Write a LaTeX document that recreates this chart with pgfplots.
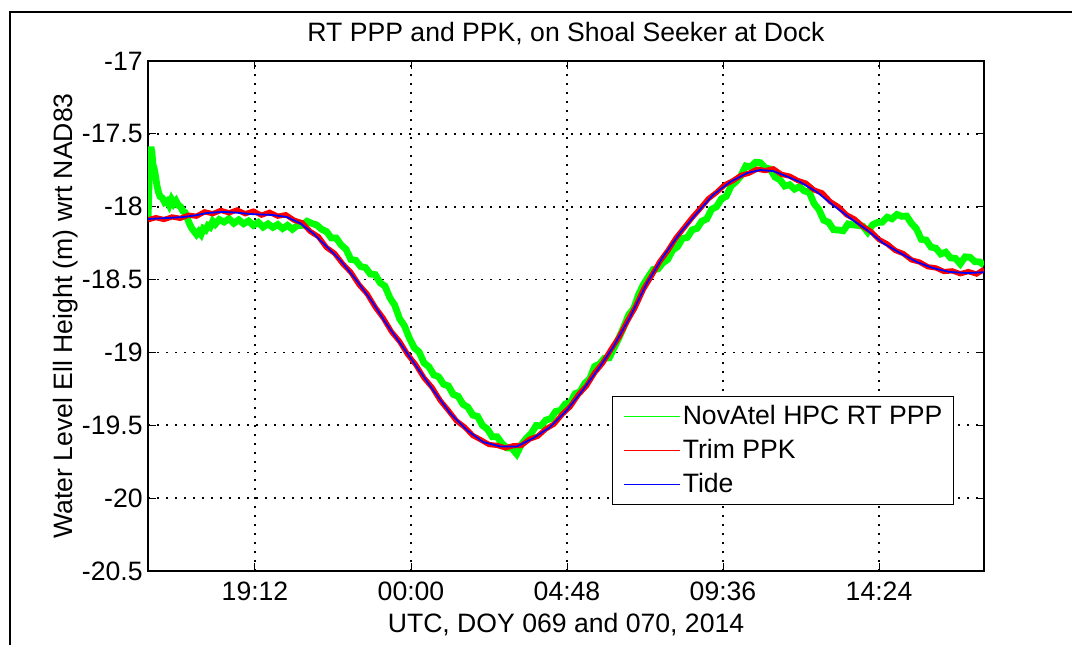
\documentclass[border=0pt]{standalone}
\usepackage{fontspec}
\setmainfont{Liberation Sans}
\usepackage{pgfplots}
\usepackage{pgfplotstable}
\pgfplotsset{compat=1.18}
\newcommand\ff{\fontsize{13.3}{16}\selectfont}
\definecolor{mgreen}{RGB}{0,255,0}
\definecolor{mred}{RGB}{255,0,0}
\definecolor{mblue}{RGB}{0,0,255}

% hours since 00:00 of DOY 069, ellipsoid height in m
\pgfplotstableread{
15.91 -18.09
15.95 -17.75
15.98 -17.62
16.00 -17.59
16.03 -17.63
16.06 -17.71
16.10 -17.74
16.14 -17.79
16.18 -17.85
16.23 -17.90
16.28 -17.93
16.35 -17.94
16.42 -17.97
16.49 -17.96
16.56 -17.99
16.63 -17.95
16.70 -17.98
16.77 -17.96
16.84 -17.99
16.91 -18.00
16.98 -18.03
17.05 -18.04
17.12 -18.08
17.19 -18.12
17.26 -18.15
17.33 -18.17
17.40 -18.19
17.47 -18.17
17.54 -18.19
17.61 -18.15
17.68 -18.16
17.75 -18.13
17.82 -18.14
17.90 -18.10
17.98 -18.12
18.10 -18.088
18.25 -18.105
18.40 -18.082
18.55 -18.114
18.70 -18.090
18.85 -18.117
19.00 -18.098
19.15 -18.128
19.30 -18.107
19.45 -18.140
19.60 -18.118
19.75 -18.142
19.90 -18.122
20.05 -18.150
20.20 -18.128
20.35 -18.155
20.50 -18.130
20.65 -18.128
20.80 -18.100
20.95 -18.115
21.10 -18.125
21.25 -18.155
21.40 -18.170
21.55 -18.215
21.70 -18.215
21.85 -18.262
22.00 -18.292
22.15 -18.362
22.30 -18.368
22.45 -18.410
22.60 -18.418
22.75 -18.462
22.90 -18.466
23.05 -18.522
23.20 -18.545
23.35 -18.625
23.50 -18.676
23.65 -18.769
23.80 -18.818
23.95 -18.902
24.10 -18.968
24.25 -18.997
24.40 -19.072
24.55 -19.098
24.70 -19.154
24.85 -19.167
25.00 -19.218
25.15 -19.230
25.30 -19.288
25.45 -19.301
25.60 -19.356
25.75 -19.376
25.90 -19.430
26.05 -19.439
26.20 -19.501
26.35 -19.526
26.50 -19.579
26.65 -19.579
26.80 -19.625
26.95 -19.655
27.10 -19.657
27.25 -19.697
27.40 -19.631
27.55 -19.589
27.70 -19.556
27.85 -19.502
28.00 -19.503
28.15 -19.464
28.30 -19.455
28.45 -19.405
28.60 -19.398
28.75 -19.353
28.90 -19.345
29.05 -19.283
29.20 -19.270
29.35 -19.212
29.50 -19.180
29.65 -19.096
29.80 -19.080
29.95 -19.040
30.10 -19.037
30.25 -18.968
30.40 -18.899
30.55 -18.824
30.70 -18.741
30.85 -18.700
31.00 -18.604
31.15 -18.535
31.30 -18.482
31.45 -18.431
31.60 -18.427
31.75 -18.385
31.90 -18.362
32.05 -18.297
32.20 -18.275
32.35 -18.218
32.50 -18.211
32.65 -18.159
32.80 -18.149
32.95 -18.099
33.10 -18.084
33.25 -18.017
33.40 -18.000
33.55 -17.946
33.70 -17.929
33.85 -17.857
34.00 -17.828
34.15 -17.788
34.30 -17.720
34.45 -17.727
34.60 -17.695
34.75 -17.698
34.90 -17.734
35.05 -17.741
35.20 -17.797
35.35 -17.815
35.50 -17.858
35.65 -17.849
35.80 -17.879
35.95 -17.862
36.10 -17.892
36.25 -17.899
36.40 -17.978
36.55 -18.019
36.70 -18.093
36.85 -18.107
37.00 -18.158
37.15 -18.160
37.30 -18.165
37.45 -18.118
37.60 -18.125
37.75 -18.128
37.90 -18.133
38.05 -18.174
38.20 -18.124
38.35 -18.108
38.50 -18.106
38.65 -18.072
38.80 -18.083
38.95 -18.053
39.10 -18.066
39.25 -18.064
39.40 -18.115
39.55 -18.151
39.70 -18.224
39.85 -18.229
40.00 -18.277
40.15 -18.285
40.30 -18.324
40.45 -18.312
40.60 -18.351
40.75 -18.354
40.90 -18.392
41.05 -18.344
41.20 -18.347
41.35 -18.377
41.50 -18.379
41.63 -18.400
}\ppp

\pgfplotstableread{
15.91 -18.090
16.15 -18.075
16.40 -18.088
16.65 -18.070
16.90 -18.080
17.15 -18.058
17.40 -18.065
17.65 -18.035
17.90 -18.048
18.15 -18.025
18.40 -18.042
18.65 -18.022
18.90 -18.048
19.15 -18.030
19.40 -18.058
19.65 -18.038
19.90 -18.065
20.15 -18.055
20.40 -18.092
20.65 -18.110
20.90 -18.170
21.15 -18.205
21.40 -18.280
21.65 -18.320
21.90 -18.392
22.15 -18.450
22.40 -18.535
22.65 -18.598
22.90 -18.690
23.15 -18.765
23.40 -18.858
23.65 -18.925
23.90 -19.015
24.15 -19.085
24.40 -19.175
24.65 -19.240
24.90 -19.330
25.15 -19.398
25.40 -19.470
25.65 -19.512
25.90 -19.570
26.15 -19.600
26.40 -19.632
26.65 -19.638
26.90 -19.655
27.15 -19.640
27.40 -19.638
27.65 -19.595
27.90 -19.575
28.15 -19.525
28.40 -19.492
28.65 -19.425
28.90 -19.372
29.15 -19.290
29.40 -19.230
29.65 -19.140
29.90 -19.072
30.15 -18.980
30.40 -18.895
30.65 -18.788
30.90 -18.690
31.15 -18.568
31.40 -18.475
31.65 -18.378
31.90 -18.302
32.15 -18.215
32.40 -18.145
32.65 -18.075
32.90 -18.012
33.15 -17.945
33.40 -17.902
33.65 -17.850
33.90 -17.822
34.15 -17.785
34.40 -17.770
34.65 -17.742
34.90 -17.752
35.15 -17.740
35.40 -17.778
35.65 -17.790
35.90 -17.820
36.15 -17.838
36.40 -17.885
36.65 -17.905
36.90 -17.965
37.15 -18.000
37.40 -18.055
37.65 -18.085
37.90 -18.135
38.15 -18.170
38.40 -18.225
38.65 -18.255
38.90 -18.300
39.15 -18.322
39.40 -18.365
39.65 -18.380
39.90 -18.412
40.15 -18.420
40.40 -18.445
40.65 -18.440
40.90 -18.460
41.15 -18.445
41.40 -18.462
41.63 -18.430
}\ppk

\pgfplotstableread{
15.91 -18.084
16.45 -18.078
16.98 -18.071
17.40 -18.058
17.72 -18.043
18.21 -18.036
18.60 -18.040
19.05 -18.050
19.75 -18.057
20.18 -18.071
20.58 -18.112
20.98 -18.181
21.42 -18.277
21.82 -18.366
22.34 -18.510
22.83 -18.660
23.20 -18.790
23.66 -18.935
24.18 -19.100
24.68 -19.258
25.20 -19.416
25.72 -19.533
26.22 -19.615
26.74 -19.645
27.26 -19.645
27.75 -19.590
28.28 -19.512
28.80 -19.395
29.29 -19.258
29.82 -19.095
30.22 -18.963
30.74 -18.757
31.26 -18.524
31.75 -18.345
32.28 -18.180
32.80 -18.043
33.29 -17.920
33.82 -17.830
34.34 -17.769
34.74 -17.748
35.14 -17.755
35.45 -17.782
35.97 -17.830
36.49 -17.899
36.98 -17.988
37.51 -18.078
38.03 -18.160
38.52 -18.249
39.05 -18.318
39.57 -18.380
40.06 -18.421
40.58 -18.448
41.11 -18.455
41.63 -18.450
}\tide

\begin{document}
\ff
\begin{tikzpicture}
\useasboundingbox (0,0) rectangle (536pt,322pt);
\fill[white] (0,0) rectangle (536pt,322pt);
\draw[line width=1pt] (4.75pt,-2pt) -- (4.75pt,315.75pt) -- (540pt,315.75pt);
\begin{axis}[name=ax,
  at={(74pt,36.5pt)}, anchor=south west,
  scale only axis, width=418pt, height=255pt,
  xmin=15.908, xmax=41.63, ymin=-20.5, ymax=-17,
  xtick={19.2,24,28.8,33.6,38.4},
  xticklabels={19:12,00:00,04:48,09:36,14:24},
  ytick={-20.5,-20,-19.5,-19,-18.5,-18,-17.5,-17},
  yticklabels={-20.5,-20,-19.5,-19,-18.5,-18,-17.5,-17},
  tick align=inside, major tick length=4pt,
  tick style={black, line width=0.5pt},
  axis line style={black, line width=0.9pt},
  grid=major,
  grid style={black, line width=0.8pt, dash pattern=on 0.8pt off 3.7pt},
  xticklabel style={font=\ff, inner sep=0pt, anchor=north, yshift=-5.5pt},
  yticklabel style={font=\ff, inner sep=0pt, anchor=east, xshift=-2.5pt},
  title={RT PPP and PPK, on Shoal Seeker at Dock},
  title style={font=\ff, inner sep=0pt, at={(axis description cs:0.5,1)}, anchor=base, yshift=4pt},
  xlabel={UTC, DOY 069 and 070, 2014},
  xlabel style={font=\ff, inner sep=0pt, at={(axis description cs:0.5,0)}, anchor=north, yshift=-21pt},
  legend cell align=left,
  legend image code/.code={\draw[#1, line width=0.6pt] (0pt,0pt) -- (28pt,0pt);},
  legend style={font=\ff, at={(0.555,0.343)}, anchor=north west, draw=black, line width=0.6pt, fill=white,
    inner xsep=5.5pt, inner ysep=3.25pt, row sep=3.5pt, column sep=1pt,
    nodes={inner sep=0pt, text height=10.5pt, text depth=3pt}},
]
\addplot[mgreen, line width=3.4pt, line join=miter, miter limit=3] table {\ppp};
\addplot[mred, line width=2.6pt, line join=miter, miter limit=3] table {\ppk};
\addplot[mblue, line width=0.9pt, line join=round] table {\tide};
\legend{NovAtel HPC RT PPP, Trim PPK, Tide}
\end{axis}
\node[font=\ff, inner sep=0pt, rotate=90, anchor=north] at ([xshift=-47.5pt]ax.west)
  {Water Level Ell Height (m) wrt NAD83};
\end{tikzpicture}
\end{document}
